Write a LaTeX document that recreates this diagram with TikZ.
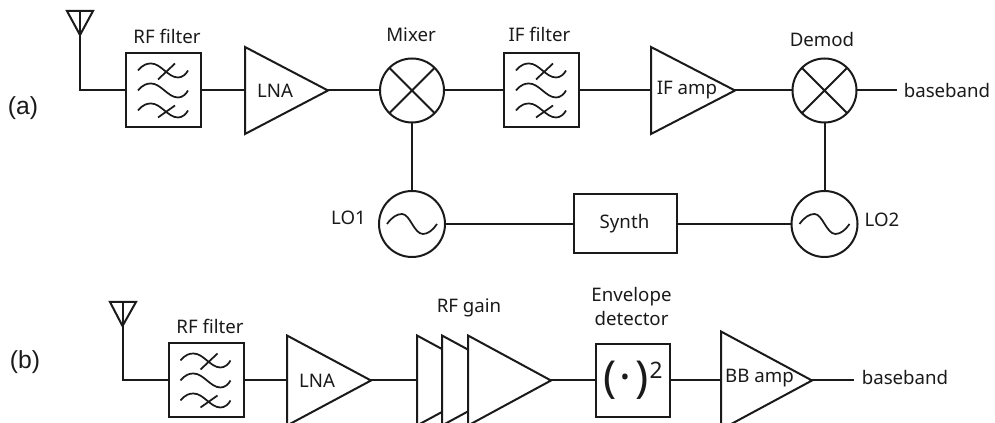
\documentclass[tikz,border=0pt]{standalone}
\usepackage{fontspec}
\setmainfont{Noto Sans}
\newfontfamily\arialf{Liberation Sans}
\usetikzlibrary{shapes.geometric}
\definecolor{ink}{HTML}{1A1A1A}
\tikzset{
  x=0.75pt,y=-0.75pt,
  every path/.style={line width=1.5pt,color=ink},
  conn/.style={draw=ink},
  lab/.style={inner sep=0pt,outer sep=0pt,text=ink,font=\fontsize{14}{17.5}\selectfont,align=center},
  sublab/.style={inner sep=0pt,outer sep=0pt,text=ink,font=\arialf\fontsize{18.5}{20}\selectfont},
  filt/.style={draw=ink,rectangle,minimum width=56.25pt,minimum height=55.5pt,inner sep=0pt,outer sep=0pt},
  boxn/.style={draw=ink,rectangle,inner sep=0pt,outer sep=0pt},
  circ/.style={draw=ink,circle,fill=white,inner sep=0pt,outer sep=0pt,minimum size=48pt},
  amp/.style={draw=ink,fill=white,isosceles triangle,isosceles triangle stretches,inner sep=0pt,outer sep=0pt,anchor=apex},
  wavesty/.style={line width=1.3pt},
  waves/.pic={
    \foreach \dy in {0,20,40}{
      \draw[wavesty] (12,17+\dy) .. controls (17,11+\dy) and (21,10+\dy) .. (25,10+\dy)
        .. controls (35,10+\dy) and (42,24+\dy) .. (52,24+\dy)
        .. controls (56,24+\dy) and (60,21+\dy) .. (62,17+\dy);
    }
    \draw[wavesty] (32,26) -- (49,10);
    \draw[wavesty] (32,64) -- (49,52);
  },
  sinewave/.pic={
    \draw[wavesty] (-25,0) .. controls (-20,-7) and (-15,-10) .. (-10,-10)
      .. controls (-2,-10) and (2,10) .. (11,10)
      .. controls (16,10) and (21,6) .. (25,0);
  }
}
\newcommand{\amptri}[5]{\node[amp,minimum height=#2*0.75pt,minimum width=#3*0.75pt] (#1) at (#4,#5) {};}
\begin{document}
\begin{tikzpicture}
\useasboundingbox (0,0) rectangle (995,423);
% ---------- row a
\coordinate (anta) at (80,35);
\draw[line join=miter] (67,11) -- (93,11) -- (80,35) -- cycle;
\draw (80,11) -- (anta);
\node[filt] (rfa) at (163.5,90.5) {};
\pic at (rfa.north west) {waves};
\amptri{lnaa}{83}{87}{328}{90.5}
\node[circ] (mix) at (412,90.5) {};
\draw (mix.45) -- (mix.225) (mix.135) -- (mix.315);
\node[filt] (ifa) at (541.5,90.5) {};
\pic at (ifa.north west) {waves};
\amptri{ifamp}{84}{87}{735}{90.5}
\node[circ] (dem) at (824.5,90.5) {};
\draw (dem.45) -- (dem.225) (dem.135) -- (dem.315);
\coordinate (bba) at (897,90.5);
\node[circ,minimum size=49.5pt] (lo1) at (412,224) {};
\pic at (lo1) {sinewave};
\node[circ,minimum size=49.5pt] (lo2) at (824.5,224) {};
\pic at (lo2) {sinewave};
\node[boxn,minimum width=77.25pt,minimum height=44.25pt] (syn) at (625.5,224) {};
\draw[conn] (anta) |- (rfa.west);
\draw[conn] (rfa.east) -- (lnaa.west);
\draw[conn] (lnaa.east) -- (mix.west);
\draw[conn] (mix.east) -- (ifa.west);
\draw[conn] (ifa.east) -- (ifamp.west);
\draw[conn] (ifamp.east) -- (dem.west);
\draw[conn] (dem.east) -- (bba);
\draw[conn] (mix.south) -- (lo1.north);
\draw[conn] (dem.south) -- (lo2.north);
\draw[conn] (lo1.east) -- (syn.west);
\draw[conn] (syn.east) -- (lo2.west);
\node[sublab] (la) at (23,108) {(a)};
\node[lab] (t1) at (167,36) {RF filter};
\node[lab] (t2) at (275,91) {LNA};
\node[lab] (t3) at (411,35) {Mixer};
\node[lab] (t4) at (539.5,34) {IF filter};
\node[lab] (t5) at (687,90) {IF amp};
\node[lab] (t6) at (822,40) {Demod};
\node[lab] (t7) at (947,91) {baseband};
\node[lab] (t8) at (348.5,218) {LO1};
\node[lab] (t9) at (882,220) {LO2};
\node[lab] (t10) at (624.5,224) {Synth};
% ---------- row b
\coordinate (antb) at (122.5,326);
\draw[line join=miter] (110,302) -- (136,302) -- (122.5,326) -- cycle;
\draw (122.5,302) -- (antb);
\node[filt] (rfb) at (206,380.5) {};
\pic at (rfb.north west) {waves};
\amptri{lnab}{84}{90}{371}{380.5}
\amptri{g1}{83}{90}{500}{380.5}
\amptri{g2}{83}{90}{525}{380.5}
\amptri{g3}{83}{90}{551}{380.5}
\node[boxn,minimum width=55.5pt,minimum height=54.75pt,text=ink] (env) at (633,380.5) {\raisebox{-1pt}{\fontsize{33}{36}\selectfont(\kern2.5pt\bfseries·\kern2.5pt\mdseries)}\kern1pt\raisebox{0.95em}{\fontsize{17}{20}\selectfont 2}};
\amptri{bb}{91}{98}{812}{380.5}
\coordinate (bbb) at (854,380.5);
\draw[conn] (antb) |- (rfb.west);
\draw[conn] (rfb.east) -- (lnab.west);
\draw[conn] (lnab.east) -- (g1.west);
\draw[conn] (g3.east) -- (env.west);
\draw[conn] (env.east) -- (bb.west);
\draw[conn] (bb.east) -- (bbb);
\node[sublab] (lb) at (25,362) {(b)};
\node[lab] (u1) at (210,326) {RF filter};
\node[lab] (u2) at (317,381) {LNA};
\node[lab] (u3) at (469,308) {RF gain};
\node[lab] (u4) at (631.5,306.5) {Envelope\\detector};
\node[lab] (u5) at (759.5,378) {BB amp};
\node[lab] (u6) at (905,378) {baseband};
\end{tikzpicture}
\end{document}
